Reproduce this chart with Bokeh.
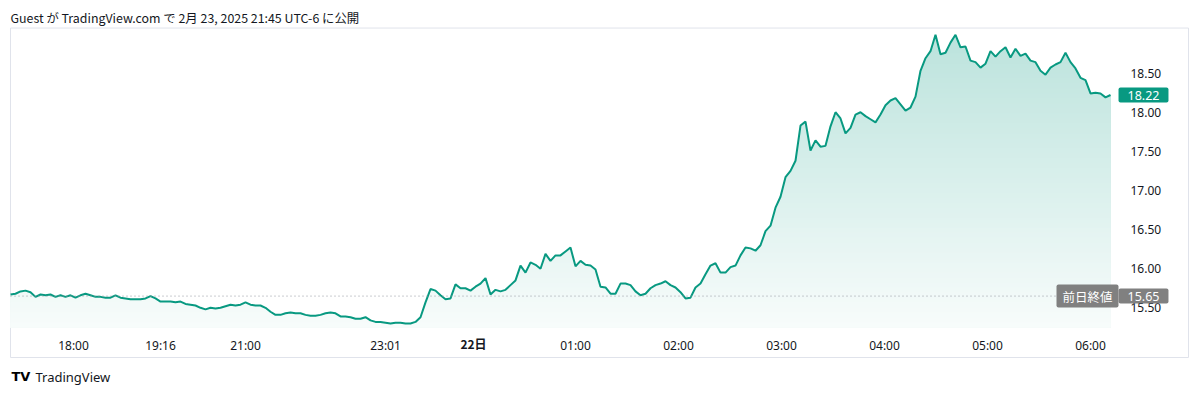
import numpy as np
from bokeh.plotting import figure
from bokeh.models import Range1d, FixedTicker, NumeralTickFormatter, Label
from bokeh.embed import file_html
from bokeh.resources import INLINE

title_text = "Guest が TradingView.com で 2月 23, 2025 21:45 UTC-6 に公開"
brand_text = "TradingView"

# price series, one value per bar (bar index = position on the session axis)
prices = [
    15.67, 15.68, 15.71, 15.72, 15.70, 15.64, 15.67, 15.66, 15.67, 15.64,
    15.66, 15.64, 15.66, 15.63, 15.66, 15.68, 15.66, 15.64, 15.64, 15.63,
    15.63, 15.66, 15.63, 15.62, 15.61, 15.61, 15.61, 15.62, 15.65, 15.62,
    15.58, 15.58, 15.58, 15.57, 15.58, 15.55, 15.54, 15.53, 15.50, 15.48,
    15.50, 15.49, 15.50, 15.52, 15.54, 15.53, 15.54, 15.57, 15.54, 15.53,
    15.53, 15.50, 15.45, 15.41, 15.41, 15.43, 15.44, 15.43, 15.43, 15.41,
    15.40, 15.40, 15.41, 15.43, 15.44, 15.43, 15.39, 15.39, 15.38, 15.36,
    15.36, 15.38, 15.34, 15.32, 15.32, 15.31, 15.30, 15.31, 15.31, 15.30,
    15.30, 15.32, 15.38, 15.57, 15.74, 15.72, 15.66, 15.61, 15.62, 15.80,
    15.75, 15.75, 15.72, 15.77, 15.81, 15.88, 15.67, 15.73, 15.71, 15.73,
    15.79, 15.85, 16.04, 15.95, 16.08, 16.05, 16.00, 16.19, 16.10, 16.17,
    16.17, 16.22, 16.27, 16.03, 16.10, 16.05, 16.04, 15.99, 15.77, 15.76,
    15.68, 15.68, 15.81, 15.81, 15.79, 15.71, 15.66, 15.68, 15.75, 15.79,
    15.81, 15.84, 15.79, 15.76, 15.70, 15.62, 15.63, 15.76, 15.81, 15.93,
    16.04, 16.07, 15.95, 15.95, 16.02, 16.04, 16.17, 16.27, 16.26, 16.23,
    16.30, 16.48, 16.55, 16.78, 16.92, 17.17, 17.25, 17.38, 17.83, 17.88,
    17.51, 17.64, 17.56, 17.57, 17.82, 18.00, 17.92, 17.73, 17.80, 17.97,
    18.00, 17.95, 17.91, 17.87, 17.97, 18.09, 18.15, 18.18, 18.10, 18.02,
    18.06, 18.20, 18.53, 18.69, 18.78, 18.99, 18.74, 18.76, 18.89, 18.99,
    18.83, 18.84, 18.66, 18.64, 18.57, 18.62, 18.78, 18.71, 18.78, 18.83,
    18.70, 18.81, 18.72, 18.75, 18.66, 18.64, 18.53, 18.48, 18.57, 18.61,
    18.64, 18.76, 18.64, 18.56, 18.44, 18.41, 18.24, 18.25, 18.24, 18.19,
    18.22,
]
prev_close = 15.65
prev_close_label = "前日終値"

# time-axis ticks (bar index positions) and their labels
tick_pos = [12.6, 30, 47, 75, 92.6, 113, 133.6, 154.2, 174.8, 195.4, 216]
tick_labels = ["18:00", "19:16", "21:00", "23:01", "22日", "01:00", "02:00",
               "03:00", "04:00", "05:00", "06:00"]
bold_tick = "22日"
price_ticks = [15.5, 16.0, 16.5, 17.0, 17.5, 18.0, 18.5]

# ---- styling / layout constants ----
GREEN = "#089981"
GREY = "#808080"
TXT = "#131722"
FONT = "Noto Sans"
CJK = "Noto Sans CJK JP"
W, H = 1200, 393
X_VIEW = (-2, 238)            # whole canvas in bar units
Y_VIEW = (14.405, 19.428)     # whole canvas in price units
PANE_RIGHT = 221.6            # right edge of price pane (bars)
PANE_TOP = 19.07              # top edge of price pane (price)
PANE_BOTTOM = 15.248          # bottom edge of price pane (price)
BOX = dict(left=0, right=235.6, top=19.076, bottom=14.865)

x = np.arange(len(prices))
y = np.array(prices)

p = figure(width=W, height=H, output_backend="svg", toolbar_location=None,
           x_range=Range1d(*X_VIEW), y_range=Range1d(*Y_VIEW),
           y_axis_location="right", x_axis_location="below",
           min_border=0, background_fill_color="white", border_fill_color="white")
p.outline_line_color = None
p.xgrid.visible = False
p.ygrid.visible = False
p.title.visible = False

# outer chart box
p.quad(fill_color=None, line_color="#e0e3eb", line_width=1, **BOX)

# vertical gradient fill under the line (banded, drawn top band first)
def blend(a):
    r, g, b = 8, 153, 129
    return "#%02x%02x%02x" % (round(255 + (r - 255) * a), round(255 + (g - 255) * a),
                              round(255 + (b - 255) * a))

n_bands = 60
a_top, a_bot = 0.28, 0.03
for k in range(n_bands, 0, -1):
    lev = PANE_BOTTOM + (PANE_TOP - PANE_BOTTOM) * k / n_bands
    a = a_bot + (a_top - a_bot) * (k - 0.5) / n_bands
    p.varea(x=x, y1=PANE_BOTTOM, y2=np.minimum(y, lev), fill_color=blend(a))

p.line(x, y, line_color=GREEN, line_width=2)

# previous close dotted line across the pane
p.segment(x0=0, x1=PANE_RIGHT, y0=prev_close, y1=prev_close,
          line_color="#9598a1", line_dash="1 3", line_width=1)

# axes, pinned to the pane edges
yax = p.yaxis[0]
yax.fixed_location = PANE_RIGHT
yax.ticker = FixedTicker(ticks=price_ticks)
yax.formatter = NumeralTickFormatter(format="0.00")
yax.axis_line_color = None
yax.major_tick_line_color = None
yax.minor_tick_line_color = None
yax.major_tick_out = 0
yax.major_tick_in = 0
yax.major_label_standoff = 12
yax.major_label_text_font = FONT
yax.major_label_text_font_size = "12px"
yax.major_label_text_color = TXT

xax = p.xaxis[0]
xax.fixed_location = PANE_BOTTOM
xax.ticker = FixedTicker(ticks=tick_pos)
xax.major_label_overrides = {t: ("" if l == bold_tick else l) for t, l in zip(tick_pos, tick_labels)}
xax.axis_line_color = None
xax.major_tick_line_color = None
xax.minor_tick_line_color = None
xax.major_tick_out = 0
xax.major_tick_in = 0
xax.major_label_standoff = 9
xax.major_label_text_font = FONT
xax.major_label_text_font_size = "12px"
xax.major_label_text_color = TXT

bi = tick_labels.index(bold_tick)
p.add_layout(Label(x=tick_pos[bi], y=H - 343, x_units="data", y_units="screen",
                   text=bold_tick, text_align="center", text_baseline="middle",
                   text_font=CJK, text_font_size="12px", text_font_style="bold",
                   text_color=TXT))

# header
p.add_layout(Label(x=10, y=H - 17, x_units="screen", y_units="screen",
                   text=title_text, text_baseline="middle", text_font=CJK,
                   text_font_size="12.4px", text_color=TXT))

# price labels on the scale
last = prices[-1]
p.add_layout(Label(x=1143, y=last, x_units="screen", y_units="data",
                   text=f"{last:.2f}", text_align="center", text_baseline="middle",
                   text_font=FONT, text_font_size="12.5px", text_color="white",
                   background_fill_color=GREEN, border_radius=2,
                   padding=dict(left=9, right=9, top=3, bottom=3)))
p.add_layout(Label(x=1143, y=prev_close, x_units="screen", y_units="data",
                   text=f"{prev_close:.2f}", text_align="center", text_baseline="middle",
                   text_font=FONT, text_font_size="12.5px", text_color="white",
                   background_fill_color=GREY, border_radius=2,
                   padding=dict(left=9, right=9, top=3, bottom=3)))
p.add_layout(Label(x=1118, y=prev_close, x_units="screen", y_units="data",
                   text=prev_close_label, text_align="right", text_baseline="middle",
                   text_font=CJK, text_font_size="12.5px", text_color="white",
                   background_fill_color=GREY, border_radius=2,
                   padding=dict(left=6, right=6, top=2, bottom=2)))

# brand
p.add_layout(Label(x=11, y=H - 376, x_units="screen", y_units="screen", text="TV",
                   text_baseline="middle", text_font="DejaVu Sans", text_font_size="13px",
                   text_font_style="bold", text_color="#000000"))
p.add_layout(Label(x=35, y=H - 376, x_units="screen", y_units="screen", text=brand_text,
                   text_baseline="middle", text_font=FONT, text_font_size="13px",
                   text_color=TXT))

open("out.html", "w").write(file_html(p, INLINE))
